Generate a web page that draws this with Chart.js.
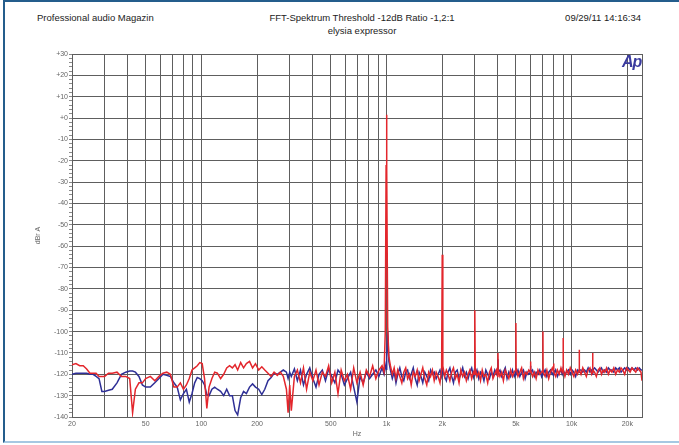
<!DOCTYPE html>
<html>
<head>
<meta charset="utf-8">
<script src="https://cdn.jsdelivr.net/npm/chart.js@4.4.0/dist/chart.umd.min.js"></script>
<style>
  html, body { margin: 0; padding: 0; background: #fff; }
  #wrap { position: relative; width: 679px; height: 445px; overflow: hidden; font-family: "Liberation Sans", Arial, sans-serif; }
  #frame { position: absolute; left: 3px; top: 0; width: 676px; height: 443px; box-sizing: border-box;
           border-top: 2px solid #245d8c; border-left: 2px solid #245d8c; border-bottom: 2px solid #a6c8e2; }
  .hdr { position: absolute; font-size: 9.5px; color: #222; line-height: 1; white-space: nowrap; }
  #logo { position: absolute; left: 622px; top: 53px; font-size: 16px; font-weight: bold; font-style: italic; color: #3b3b9e; letter-spacing: -1px; }
  canvas { position: absolute; left: 0; top: 0; }
</style>
</head>
<body>
<div id="wrap">
  <div id="frame"></div>
  <div class="hdr" style="left:37px; top:13px;">Professional audio Magazin</div>
  <div class="hdr" style="left:362px; top:13px; transform:translateX(-50%);">FFT-Spektrum Threshold -12dB Ratio -1,2:1</div>
  <div class="hdr" style="left:362px; top:26px; transform:translateX(-50%);">elysia expressor</div>
  <div class="hdr" style="right:38px; top:13px;">09/29/11 14:16:34</div>
  <canvas id="fft" width="679" height="445"></canvas>
  <div id="logo">Ap</div>
</div>
<script>
// frequency points (Hz) shared by both traces
const freqs = [
  20, 21, 22, 23, 24, 25, 26, 27, 28, 29,
  30, 31.5, 33, 35, 37, 39, 41, 42.5, 44, 46,
  48, 50, 53, 56, 59, 62, 65, 68, 71, 74,
  77, 80, 83, 86, 89, 92, 95, 98, 101, 104,
  107, 110, 114, 118, 122, 127, 132, 137, 142, 147,
  152, 157, 163, 169, 175, 182, 189, 196, 204, 212,
  220, 229, 238, 247, 257, 267, 277, 288, 294, 300,
  306, 318, 330, 343, 356, 370, 385, 400, 416, 432,
  450, 468, 487, 506, 526, 547, 569, 592, 615, 640,
  665, 692, 720, 748, 778, 810, 842, 876, 910, 946,
  970, 985, 995, 1000, 1005, 1015, 1030, 1050, 1075, 1100,
  1125, 1150, 1180, 1210, 1240, 1270, 1300, 1330, 1360, 1395,
  1430, 1465, 1500, 1535, 1570, 1610, 1650, 1690, 1730, 1770,
  1810, 1855, 1900, 1945, 1985, 2000, 2015, 2060, 2105, 2150,
  2200, 2250, 2300, 2355, 2410, 2465, 2520, 2580, 2640, 2700,
  2760, 2820, 2885, 2950, 2985, 3000, 3015, 3080, 3150, 3220,
  3290, 3360, 3440, 3520, 3600, 3680, 3760, 3845, 3930, 3985,
  4000, 4015, 4100, 4190, 4280, 4380, 4480, 4580, 4680, 4790,
  4900, 4985, 5000, 5015, 5130, 5250, 5370, 5490, 5610, 5740,
  5870, 5985, 6000, 6015, 6150, 6290, 6430, 6580, 6730, 6880,
  6985, 7000, 7015, 7190, 7350, 7520, 7690, 7860, 7985, 8000,
  8015, 8200, 8380, 8570, 8760, 8900, 8985, 9000, 9015, 9200,
  9400, 9610, 9830, 10050, 10280, 10510, 10750, 10985, 11000, 11015,
  11240, 11490, 11750, 12010, 12280, 12560, 12840, 12985, 13000, 13015,
  13300, 13600, 13900, 14200, 14500, 14800, 15100, 15450, 15800, 16150,
  16500, 16900, 17300, 17700, 18100, 18500, 18900, 19350, 19800, 20250,
  20700, 21200, 21700, 22200, 22700, 23200, 23700, 24000
];

// red trace, dBr
const redLevels = [
  -115.5, -115, -116, -116, -117.5, -119.5, -119.5, -119.5, -121, -121,
  -121, -119.5, -119.5, -119, -121, -121, -122, -138, -127, -124,
  -124, -122, -121, -123, -121, -119.5, -119, -120, -126, -126,
  -124, -127, -125, -122, -118, -117, -116, -114.5, -115, -122,
  -136, -126, -122, -119, -119.5, -122, -120, -117, -116, -117,
  -115.5, -118, -114.5, -117, -115, -114, -117, -115, -118, -116.5,
  -118, -119.5, -121, -119, -120.5, -119, -121, -127, -138, -125,
  -137, -121, -118, -124, -117, -127, -119, -123, -118, -125,
  -119, -121, -116, -124, -119, -129, -118, -123, -120, -127,
  -117, -124, -119, -125, -118, -121, -116, -122, -118, -116,
  -119, -100, -22, 1.5, -24, -98, -112, -116, -120, -117,
  -122, -118, -121, -124, -119, -117, -122, -120, -125, -119,
  -121, -118, -123, -120, -117, -122, -125, -119, -121, -118,
  -123, -119, -121, -124, -118, -64, -116, -121, -118, -120,
  -123, -119, -117, -122, -120, -124, -118, -121, -119, -123,
  -120, -118, -122, -119, -120, -90, -117, -121, -119, -123,
  -118, -121, -120, -124, -119, -117, -122, -120, -118, -121,
  -110, -118, -121, -119, -123, -118, -120, -122, -118, -121,
  -119, -118, -96, -117, -121, -119, -117, -122, -119, -120,
  -118, -119, -114, -118, -121, -119, -122, -118, -120, -119,
  -118, -100, -119, -121, -118, -122, -119, -117, -119, -115,
  -119, -121, -118, -120, -117, -119, -118, -103, -118, -121,
  -118, -120, -117, -119, -121, -118, -120, -118, -108.5, -118,
  -120, -117, -119, -121, -118, -117, -120, -119, -110, -118,
  -119, -121, -118, -117, -120, -118, -119, -117, -120, -118,
  -119, -117, -120, -118, -119, -117, -118, -120, -117, -118,
  -119, -117, -118, -119, -117, -118, -119, -123
];

// blue trace, dBr
const blueLevels = [
  -120, -119.5, -119.5, -119.5, -119.5, -120, -120, -121, -122, -128,
  -128, -127.5, -127, -124, -120, -119, -118.5, -118.5, -119, -121,
  -125, -126, -126, -124, -122, -120, -120.5, -121, -124, -126,
  -132, -129, -127, -133, -129, -124, -121.5, -122, -123, -125,
  -129.5, -130, -127, -126, -127, -128, -130, -127, -130, -130,
  -137, -139, -131, -128, -129, -126, -124.5, -126, -127, -129.5,
  -127, -123, -121.5, -119.5, -120, -119, -118, -119, -122, -119,
  -121, -117.5, -123, -118, -125, -120, -117, -122, -126, -120,
  -118, -123, -117.5, -121, -124, -118, -120, -125, -122, -119,
  -126, -133, -121, -124, -119, -122, -120, -118, -121, -117,
  -120, -117, -115, -118, -112, -100, -114, -118, -122, -119,
  -124, -120, -117, -121, -123, -119, -118, -122, -120, -117,
  -122, -125, -119, -121, -124, -119, -121, -123, -118, -120,
  -119, -122, -120, -118, -121, -119, -118, -121, -123, -119,
  -117, -121, -124, -119, -118, -122, -120, -117, -121, -119,
  -122, -119, -117, -121, -118, -119, -120, -118, -122, -119,
  -120, -123, -118, -120, -122, -119, -121, -118, -120, -119,
  -113, -119, -118, -121, -119, -117, -122, -119, -121, -118,
  -121, -119, -118, -120, -118, -121, -119, -118, -122, -119,
  -120, -119, -116, -119, -118, -121, -119, -120, -118, -121,
  -119, -118, -120, -118, -121, -119, -118, -120, -119, -118,
  -120, -118, -121, -119, -118, -120, -119, -119, -118, -120,
  -119, -118, -120, -118, -119, -121, -118, -119, -119, -118,
  -118, -119, -118, -119, -117, -119, -118, -120, -119, -118,
  -117, -118, -119, -118, -117, -119, -118, -119, -117, -118,
  -118, -119, -117, -118, -117, -119, -118, -117, -118, -117,
  -118, -117, -118, -117, -118, -117, -118, -118
];

const xGridFreqs = [20, 30, 40, 50, 60, 70, 80, 90, 100, 200, 300, 400, 500, 600, 700, 800, 900,
  1000, 2000, 3000, 4000, 5000, 6000, 7000, 8000, 9000, 10000, 20000];
const xTickValues = [20, 50, 100, 200, 500, 1000, 2000, 5000, 10000, 20000];
const xTickLabels = ['20', '50', '100', '200', '500', '1k', '2k', '5k', '10k', '20k'];
const yTickValues = [30, 20, 10, 0, -10, -20, -30, -40, -50, -60, -70, -80, -90, -100, -110, -120, -130, -140];
const yTickLabels = ['+30', '+20', '+10', '+0', '-10', '-20', '-30', '-40', '-50', '-60', '-70', '-80', '-90',
  '-100', '-110', '-120', '-130', '-140'];

const toPoints = levels => freqs.map((f, i) => ({ x: f, y: levels[i] }));

const gridColor = '#5e5e5e';
const labelColor = '#666';

// box round the plot area
const plotBox = {
  id: 'plotBox',
  beforeDatasetsDraw(chart) {
    const { ctx, chartArea: a } = chart;
    ctx.save();
    ctx.strokeStyle = gridColor;
    ctx.lineWidth = 1;
    ctx.strokeRect(a.left + 0.5, a.top + 0.5, a.right - a.left, a.bottom - a.top);
    ctx.restore();
  }
};

new Chart(document.getElementById('fft'), {
  type: 'line',
  data: {
    datasets: [{
      label: 'red',
      data: toPoints(redLevels),
      borderColor: '#e3262c',
      borderWidth: 1.5,
      pointRadius: 0,
      fill: false
    }, {
      label: 'blue',
      data: toPoints(blueLevels),
      borderColor: '#2e2f96',
      borderWidth: 1.5,
      pointRadius: 0,
      fill: false
    }]
  },
  options: {
    responsive: false,
    devicePixelRatio: 1,
    animation: false,
    layout: { padding: { left: 0, top: 54, right: 37, bottom: 0 } },
    plugins: { legend: { display: false }, tooltip: { enabled: false } },
    scales: {
      x: {
        type: 'logarithmic',
        min: 20,
        max: 24000,
        afterBuildTicks: s => { s.ticks = xGridFreqs.map(v => ({ value: v })); },
        afterFit: s => { s.height = 28; },
        grid: { color: gridColor, lineWidth: 1, drawTicks: false },
        border: { display: false },
        ticks: {
          autoSkip: false, maxRotation: 0, padding: 3, color: labelColor, font: { size: 7 },
          callback: v => { const i = xTickValues.indexOf(v); return i < 0 ? '' : xTickLabels[i]; }
        },
        title: { display: true, text: 'Hz', color: labelColor, font: { size: 7 }, padding: { top: 0, bottom: 7 } }
      },
      y: {
        min: -140,
        max: 30,
        afterFit: s => { s.width = 72; },
        grid: {
          color: c => (c.tick && Math.round(c.tick.value) % 10 === 0 ? gridColor : 'rgba(0,0,0,0)'),
          tickColor: '#8a8a8a',
          tickLength: 3,
          lineWidth: 1
        },
        border: { display: false },
        ticks: {
          stepSize: 2, autoSkip: false, maxTicksLimit: 200, padding: 1, color: labelColor, font: { size: 7 },
          callback: v => { const i = yTickValues.indexOf(Math.round(v)); return i < 0 ? '' : yTickLabels[i]; }
        },
        title: { display: true, text: 'dBr A', color: labelColor, font: { size: 7 }, padding: { top: 34, bottom: 0 } }
      }
    }
  },
  plugins: [plotBox]
});
</script>
</body>
</html>
